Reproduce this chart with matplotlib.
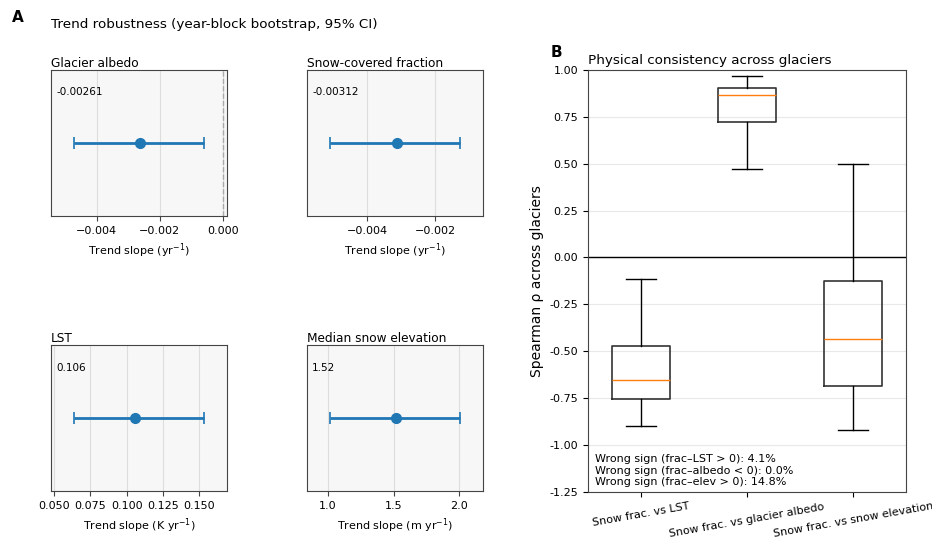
import matplotlib
matplotlib.use("Agg")
import matplotlib.pyplot as plt

# ==================================================
# DATA
# ==================================================
trend_names = ["Glacier albedo", "Snow-covered fraction", "LST", "Median snow elevation"]
trend_slope = [-0.00261, -0.00312, 0.106, 1.52]
trend_lo = [-0.00473, -0.00510, 0.0635, 1.013]
trend_hi = [-0.00058, -0.00127, 0.1537, 2.010]
trend_units = ["Trend slope (yr$^{-1}$)", "Trend slope (yr$^{-1}$)",
               "Trend slope (K yr$^{-1}$)", "Trend slope (m yr$^{-1}$)"]
trend_labels = ["-0.00261", "-0.00312", "0.106", "1.52"]

pair_labels = ["Snow frac. vs LST", "Snow frac. vs glacier albedo", "Snow frac. vs snow elevation"]
whisker_lo = [-0.897, 0.473, -0.920]
q1 = [-0.754, 0.725, -0.688]
median = [-0.656, 0.869, -0.435]
q3 = [-0.475, 0.902, -0.124]
whisker_hi = [-0.114, 0.966, 0.500]
wrong_sign = [("frac–LST > 0", 4.1), ("frac–albedo < 0", 0.0), ("frac–elev > 0", 14.8)]

BLUE = "#1f77b4"
SPINE = "#444444"

fig = plt.figure(figsize=(9.32, 5.42), dpi=100)

# ==================================================
# PANEL A - bootstrap trends
# ==================================================
positions = [(0.0547, 0.6015), (0.3294, 0.6015), (0.0547, 0.0941), (0.3294, 0.0941)]
for i, (left, bottom) in enumerate(positions):
    ax = fig.add_axes([left, bottom, 0.189, 0.2694])
    ax.set_facecolor("#f7f7f7")
    lo, hi, pt = trend_lo[i], trend_hi[i], trend_slope[i]
    ax.errorbar([pt], [0], xerr=[[pt - lo], [hi - pt]], fmt="o", color=BLUE,
                ecolor=BLUE, elinewidth=2, capsize=4, capthick=1.2, markersize=7, zorder=3)
    ax.axvline(0, color="#aaaaaa", ls="--", lw=1, zorder=1)
    pad = 0.1745 * (hi - lo)
    ax.set_xlim(lo - pad, hi + pad)
    ax.set_ylim(-1, 1)
    ax.set_yticks([])
    ax.grid(axis="x", color="#dddddd", lw=0.8)
    ax.set_axisbelow(True)
    ax.set_title(trend_names[i], loc="left", fontsize=8.7, pad=1)
    ax.set_xlabel(trend_units[i], fontsize=8)
    ax.tick_params(axis="x", labelsize=8, color=SPINE)
    ax.text(0.03, 0.88, trend_labels[i], transform=ax.transAxes, fontsize=7.5,
            ha="left", va="top")
    for sp in ax.spines.values():
        sp.set_color(SPINE)

fig.text(0.013, 0.967, "A", fontsize=11, fontweight="bold", va="center")
fig.text(0.0547, 0.954, "Trend robustness (year-block bootstrap, 95% CI)", fontsize=9.7, va="center")

# ==================================================
# PANEL B - cross-glacier consistency
# ==================================================
axb = fig.add_axes([0.631, 0.0928, 0.341, 0.778])
stats = []
for i in range(len(pair_labels)):
    stats.append({"whislo": whisker_lo[i], "q1": q1[i], "med": median[i],
                  "q3": q3[i], "whishi": whisker_hi[i], "fliers": []})
axb.bxp(stats, positions=[1, 2, 3], widths=0.55, showfliers=False,
        boxprops=dict(color="#333333", lw=1.2),
        whiskerprops=dict(color="black", lw=1),
        capprops=dict(color="black", lw=1),
        medianprops=dict(color="#ff7f0e", lw=1))
axb.axhline(0, color="black", lw=1)
axb.set_xlim(0.5, 3.5)
axb.set_ylim(-1.25, 1.0)
axb.set_yticks([-1.25, -1.0, -0.75, -0.5, -0.25, 0.0, 0.25, 0.5, 0.75, 1.0])
axb.yaxis.set_major_formatter(matplotlib.ticker.FormatStrFormatter("%.2f"))
axb.grid(axis="y", color="#e8e8e8", lw=0.8)
axb.set_axisbelow(True)
axb.set_xticks([1, 2, 3])
axb.set_xticklabels(pair_labels, rotation=10, ha="center", fontsize=8)
axb.tick_params(axis="y", labelsize=8)
axb.set_ylabel("Spearman ρ across glaciers", fontsize=10)
axb.set_title("Physical consistency across glaciers", loc="left", fontsize=9.7, pad=4)
for sp in axb.spines.values():
    sp.set_color(SPINE)
axb.text(0.022, 0.01, "\n".join(f"Wrong sign ({lab}): {v:.1f}%" for lab, v in wrong_sign),
         transform=axb.transAxes, fontsize=8, ha="left", va="bottom", linespacing=1.2)
fig.text(0.591, 0.904, "B", fontsize=11, fontweight="bold", va="center")

fig.savefig("out.png", dpi=100)
